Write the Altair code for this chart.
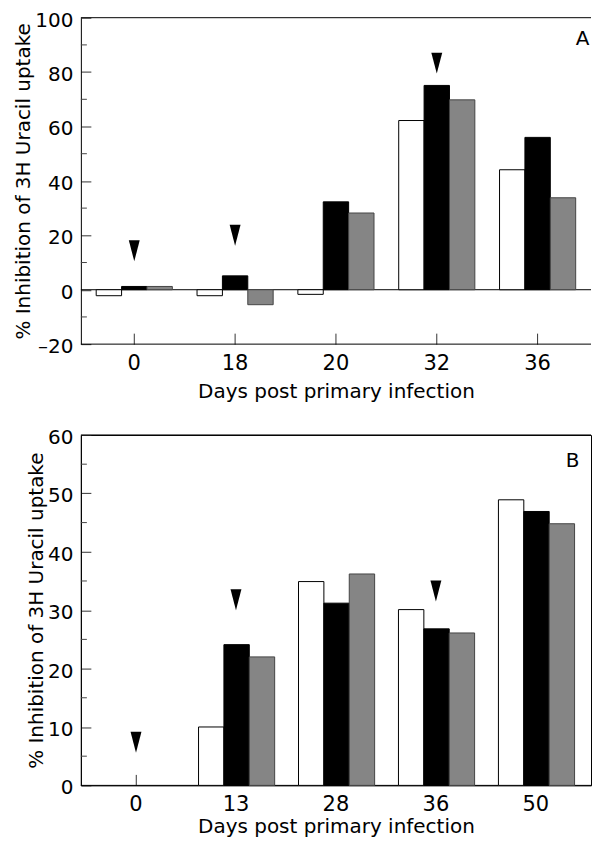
import altair as alt
import pandas as pd

FONT = "DejaVu Sans"
series = ["Group 1", "Group 2", "Group 3"]
fills = ["white", "black", "#858585"]
strokes = ["black", "black", "#444444"]

# Panel A
days_a = ["0", "18", "20", "32", "36"]
white_a = [-2.2, -2.2, -1.7, 62.2, 44.1]
black_a = [1.2, 5.1, 32.3, 75.1, 56.0]
hatch_a = [1.2, -5.5, 28.2, 69.8, 33.8]
arrow_days_a = ["0", "18", "32"]
arrow_vals_a = [14.3, 20.0, 83.3]
yticks_a = [-20, 0, 20, 40, 60, 80, 100]
yminor_a = [-10, 10, 30, 50, 70, 90]

# Panel B
days_b = ["0", "13", "28", "36", "50"]
white_b = [None, 10.0, 34.9, 30.1, 48.9]
black_b = [None, 24.1, 31.2, 26.8, 46.9]
hatch_b = [None, 22.0, 36.2, 26.1, 44.8]
arrow_days_b = ["0", "13", "36"]
arrow_vals_b = [7.4, 31.8, 33.3]
yticks_b = [0, 10, 20, 30, 40, 50, 60]
yminor_b = [5, 15, 25, 35, 45, 55]

ARROW = "M-0.52,-1L0.52,-1L0,1Z"


def bars_df(days, cols):
    rows = []
    for d_i, d in enumerate(days):
        for s, col in zip(series, cols):
            v = col[d_i]
            if v is not None:
                rows.append({"day": d, "series": s, "value": v})
    return pd.DataFrame(rows)


def panel(days, cols, adays, avals, yticks, yminor, width, height, pin, pout,
          letter, lx, ly, is_a, title_pad):
    dom = [yticks[0], yticks[-1]]
    x = alt.X(
        "day:N", sort=days,
        scale=alt.Scale(domain=days, paddingInner=pin, paddingOuter=pout),
        axis=alt.Axis(title="Days post primary infection", labelAngle=0,
                      tickSize={"expr": "-11"}, labelPadding=19, titlePadding=title_pad,
                      labelFontSize=21, domain=False),
    )
    y = alt.Y(
        "value:Q", scale=alt.Scale(domain=dom, nice=False, zero=False),
        axis=alt.Axis(title="% Inhibition of 3H Uracil uptake", values=yticks,
                      tickSize={"expr": "-10"}, labelPadding=18, titlePadding=1,
                      labelOffset=2.5,
                      labelExpr="datum.value < 0 ? '\u2013' + abs(datum.value) : datum.label"),
    )
    bars = alt.Chart(bars_df(days, cols)).mark_bar(strokeWidth=1).encode(
        x=x,
        xOffset=alt.XOffset("series:N", sort=series,
                            scale=alt.Scale(domain=series, paddingInner=0, paddingOuter=0)),
        y=y,
        color=alt.Color("series:N", scale=alt.Scale(domain=series, range=fills), legend=None),
        stroke=alt.Stroke("series:N", scale=alt.Scale(domain=series, range=strokes), legend=None),
    )
    arrows = alt.Chart(pd.DataFrame({"day": adays, "value": avals})).mark_point(
        shape=ARROW, size=441, filled=True, color="black", opacity=1, strokeWidth=0
    ).encode(x=alt.X("day:N", sort=days), y=alt.Y("value:Q"))
    minor = alt.Chart(pd.DataFrame({"value": yminor})).mark_rule(color="#444444", strokeWidth=1).encode(
        y=alt.Y("value:Q"), x=alt.value(0), x2=alt.value(6)
    )
    text = alt.Chart(pd.DataFrame({"t": [letter]})).mark_text(
        font=FONT, fontSize=20, color="black", align="center", baseline="middle"
    ).encode(text="t:N", x=alt.value(lx), y=alt.value(ly))
    frame = pd.DataFrame({"z": [0]})
    top = alt.Chart(frame).mark_rule(color="black", strokeWidth=1).encode(y=alt.datum(dom[1]))
    bottom = alt.Chart(frame).mark_rule(color="black", strokeWidth=1).encode(y=alt.datum(dom[0]))
    layers = [top, bottom, bars, arrows, minor, text]
    if is_a:
        zero = alt.Chart(frame).mark_rule(color="black", strokeWidth=1).encode(y=alt.datum(0))
        layers = [zero] + layers
    ch = alt.layer(*layers).properties(width=width, height=height)
    if is_a:
        ch = ch.properties(view=alt.ViewBackground(stroke="transparent"))
    return ch


panel_a = panel(days_a, [white_a, black_a, hatch_a], arrow_days_a, arrow_vals_a,
                yticks_a, yminor_a, 511, 327, 0.245, 0.152, "A", 502.5, 21, True, 8)
panel_b = panel(days_b, [white_b, black_b, hatch_b], arrow_days_b, arrow_vals_b,
                yticks_b, yminor_b, 511, 351, 0.251, 0.177, "B", 492.5, 26, False, 2)

chart = alt.vconcat(panel_a, panel_b, spacing=25).properties(
    padding={"left": 5, "top": 1, "right": 0, "bottom": 0}
).configure_view(stroke="black", strokeWidth=1).configure_axis(
    labelFont=FONT, labelFontSize=20, labelColor="black",
    titleFont=FONT, titleFontSize=20, titleFontWeight="normal", titleColor="black",
    domainColor="black", domainWidth=1, tickColor="#333333", tickWidth=1, grid=False,
)

chart.save("out.html", embed_options={"renderer": "svg", "actions": False})
